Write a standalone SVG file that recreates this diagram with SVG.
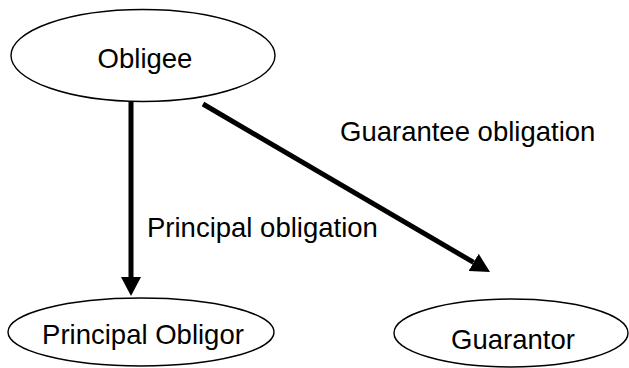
<svg xmlns="http://www.w3.org/2000/svg" width="629" height="368" viewBox="0 0 629 368">
<style>
.node ellipse{fill:#fff;stroke:#000;stroke-width:1.4}
text{font-family:"Liberation Sans",Arial,sans-serif;font-size:27.5px;fill:#000}
.edge{stroke:#000;stroke-width:5;fill:none}
</style>
<defs>
<marker id="ah" markerUnits="userSpaceOnUse" markerWidth="19" markerHeight="20" refX="0" refY="10" orient="auto" viewBox="0 0 19 20">
<path d="M0,0 L19,10 L0,20 z" fill="#000"/>
</marker>
</defs>
<rect width="629" height="368" fill="#fff"/>
<g id="connectors">
<line class="edge" x1="131" y1="102" x2="131" y2="277" marker-end="url(#ah)"/>
<line class="edge" x1="203" y1="104" x2="473.6" y2="262.4" marker-end="url(#ah)"/>
<text x="340" y="141">Guarantee obligation</text>
<text x="147" y="237">Principal obligation</text>
</g>
<g id="obligee" class="node">
<ellipse cx="143" cy="55.5" rx="132" ry="46"/>
<text x="145" y="68" text-anchor="middle">Obligee</text>
</g>
<g id="principal-obligor" class="node">
<ellipse cx="141" cy="332" rx="133" ry="34"/>
<text x="143" y="344" text-anchor="middle">Principal Obligor</text>
</g>
<g id="guarantor" class="node">
<ellipse cx="511" cy="333" rx="117" ry="34"/>
<text x="513" y="349" text-anchor="middle">Guarantor</text>
</g>
</svg>
